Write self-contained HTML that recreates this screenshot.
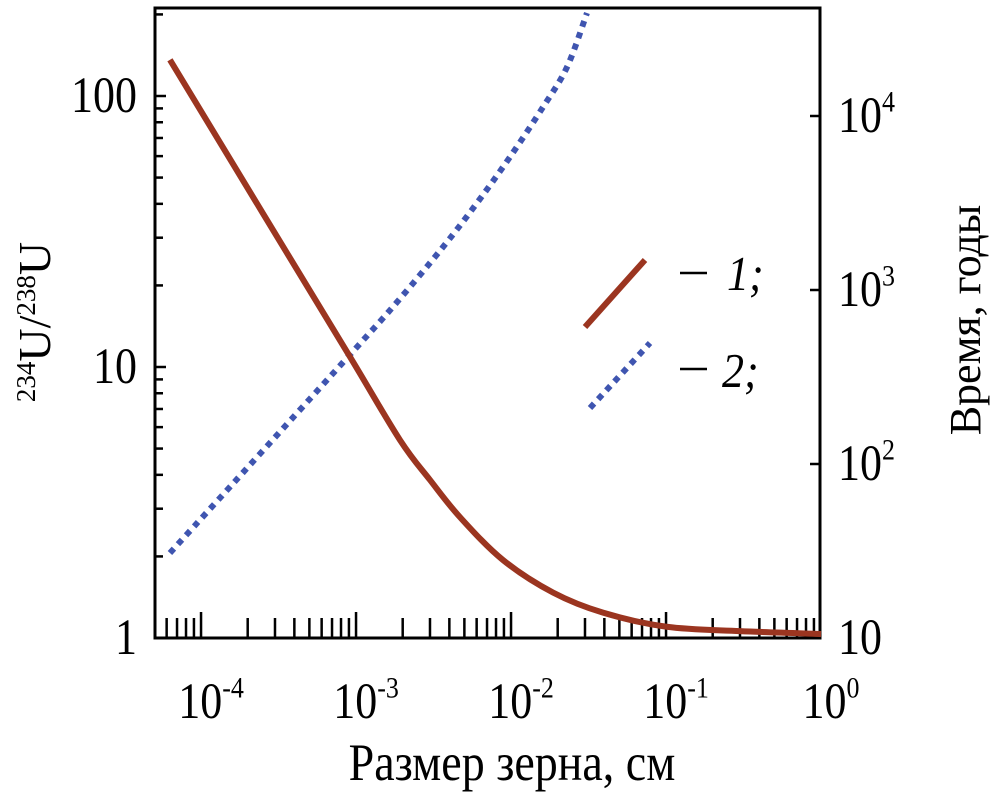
<!DOCTYPE html>
<html><head><meta charset="utf-8"><style>
html,body{margin:0;padding:0;background:#fff;}
svg{display:block;font-family:"Liberation Serif",serif;}
</style></head><body>
<svg id="chart" width="1004" height="801" viewBox="0 0 1004 801">
<rect x="155" y="8" width="665" height="630" fill="#fff" stroke="#000" stroke-width="3"/>
<g id="ticks"></g>
<g id="series"></g>
<g id="labels" font-size="44" fill="#000"></g>
<g>
 <line x1="585" y1="327" x2="645" y2="260" stroke="#9b3520" stroke-width="6"/>
 <line x1="590" y1="408" x2="650" y2="343" stroke="#3f55b0" stroke-width="6" stroke-dasharray="6 6"/>
 <line x1="680" y1="273" x2="707" y2="273" stroke="#000" stroke-width="2.5"/>
 <line x1="680" y1="369" x2="707" y2="369" stroke="#000" stroke-width="2.5"/>
 <text x="727" y="290" font-size="44" font-style="italic" transform="translate(727,290) scale(1,1.1) translate(-727,-290)">1;</text>
 <text x="722" y="387" font-size="44" font-style="italic" transform="translate(722,387) scale(1,1.1) translate(-722,-387)">2;</text>
</g>
<text x="512" y="780" font-size="46" text-anchor="middle" transform="translate(512,780) scale(1,1.15) translate(-512,-780)">Размер зерна, см</text>
<text transform="translate(50,322) rotate(-90)" font-size="46" text-anchor="middle"><tspan font-size="27" dy="-15">234</tspan><tspan dy="15">U/</tspan><tspan font-size="27" dy="-15">238</tspan><tspan dy="15">U</tspan></text>
<text transform="translate(980,320) rotate(-90)" font-size="44" text-anchor="middle">Время, годы</text>
</svg>
<script>
// Series 1: 234U/238U ratio vs grain size (left axis)
const redX = [6.3e-5, 2.5e-4, 9.14e-4, 1.92e-3, 3.0e-3, 4.69e-3, 8.87e-3, 1.87e-2, 3.92e-2, 0.101, 0.3, 1.0];
const redY = [136, 37, 10.9, 5.38, 3.83, 2.79, 1.94, 1.47, 1.24, 1.10, 1.06, 1.035];
// Series 2: time in years vs grain size (right axis)
const blueX = [6.3e-5, 9.1e-4, 1.84e-3, 3.64e-3, 6.03e-3, 9.84e-3, 1.61e-2, 2.3e-2, 3.09e-2];
const blueY = [30.8, 423, 853, 1766, 3162, 5808, 11270, 19140, 39100];
const xTickVals = [1e-4, 1e-3, 1e-2, 1e-1, 1];
const xTickExp = ["-4", "-3", "-2", "-1", "0"];
const leftTickVals = [1, 10, 100];
const leftTickLabels = ["1", "10", "100"];
const rightTickVals = [10, 100, 1000, 10000];
const rightTickExp = ["", "2", "3", "4"];

const X0 = 155, X1 = 820, Y0 = 638;
const xMinLog = -4.297, pxPerDecX = 155;
function xs(v){ return X0 + (Math.log10(v) - xMinLog) * pxPerDecX; }
function yl(v){ return Y0 - Math.log10(v) * 271; }
function yr(v){ return Y0 - (Math.log10(v) - 1) * 174; }
const NS = "http://www.w3.org/2000/svg";
function mk(tag, attrs, parent){ const e = document.createElementNS(NS, tag); for (const k in attrs) e.setAttribute(k, attrs[k]); parent.appendChild(e); return e; }
const ticks = document.getElementById('ticks');
const labels = document.getElementById('labels');
const series = document.getElementById('series');

for (let d = -5; d <= 0; d++) {
  for (let m = 1; m <= 9; m++) {
    const v = m * Math.pow(10, d);
    const x = xs(v);
    if (x < X0 + 2 || x > X1 + 0.5) continue;
    const len = m === 1 ? 26 : 20;
    const t = mk('line', {x1: x, y1: Y0, x2: x, y2: Y0 - len, stroke: '#000', 'stroke-width': 2.5}, ticks);
    
    
  }
}
for (let d = 0; d <= 2; d++) {
  for (let m = 1; m <= 9; m++) {
    const v = m * Math.pow(10, d);
    const y = yl(v);
    if (y < 10) continue;
    const len = m === 1 ? 11 : 8;
    const t = mk('line', {x1: X0, y1: y, x2: X0 + len, y2: y, stroke: '#000', 'stroke-width': 2.5}, ticks);
    
    
  }
}
rightTickVals.forEach(v => {
  const y = yr(v);
  const t = mk('line', {x1: X1, y1: y, x2: X1 - 10, y2: y, stroke: '#000', 'stroke-width': 2.5}, ticks);
  
  
});
xTickVals.forEach((v, i) => {
  const x = xs(v) + 10;
  const t = mk('text', {x: x, y: 718, 'text-anchor': 'middle', transform: `translate(${x},718) scale(1,1.15) translate(${-x},-718)`}, labels);
  
  
  const a = mk('tspan', {}, t); a.textContent = '10';
  const b = mk('tspan', {'font-size': 26, dy: -18}, t); b.textContent = xTickExp[i];
});
leftTickVals.forEach((v, i) => {
  const y = yl(v) + 16;
  const t = mk('text', {x: 137, y: y, 'text-anchor': 'end', transform: `translate(137,${y}) scale(1,1.15) translate(-137,${-y})`}, labels);
  
  
  t.textContent = leftTickLabels[i];
});
rightTickVals.forEach((v, i) => {
  const y = yr(v) + 16;
  const t = mk('text', {x: 838, y: y, transform: `translate(838,${y}) scale(1,1.15) translate(-838,${-y})`}, labels);
  
  
  const a = mk('tspan', {}, t); a.textContent = '10';
  if (rightTickExp[i]) { const b = mk('tspan', {'font-size': 26, dy: -18}, t); b.textContent = rightTickExp[i]; }
});
function pathFrom(pts){
  let d = `M${pts[0][0]},${pts[0][1]}`;
  for (let i = 0; i < pts.length - 1; i++) {
    const p0 = pts[i-1] || pts[i], p1 = pts[i], p2 = pts[i+1], p3 = pts[i+2] || p2;
    const c1 = [p1[0] + (p2[0]-p0[0])/6, p1[1] + (p2[1]-p0[1])/6];
    const c2 = [p2[0] - (p3[0]-p1[0])/6, p2[1] - (p3[1]-p1[1])/6];
    d += ` C${c1[0]},${c1[1]} ${c2[0]},${c2[1]} ${p2[0]},${p2[1]}`;
  }
  return d;
}
const bluePts = blueX.map((v, i) => [xs(v), yr(blueY[i])]);
const bp = mk('path', {d: pathFrom(bluePts), fill: 'none', stroke: '#3f55b0', 'stroke-width': 6, 'stroke-dasharray': '6 6'}, series);


const redPts = redX.map((v, i) => [xs(v), yl(redY[i])]);
const rp = mk('path', {d: pathFrom(redPts), fill: 'none', stroke: '#9b3520', 'stroke-width': 6}, series);


</script>
</body></html>
